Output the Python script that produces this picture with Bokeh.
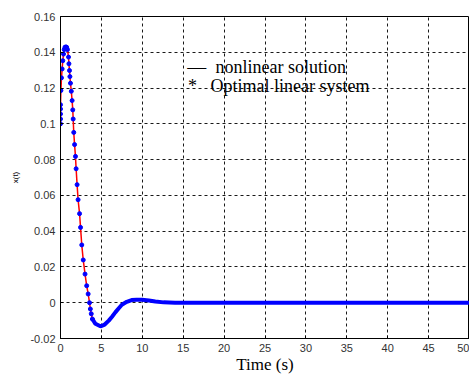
from bokeh.plotting import figure
from bokeh.models import Range1d, Label, FixedTicker
from bokeh.embed import file_html
from bokeh.resources import INLINE

# Sparse solver points (optimal linear system markers) and nonlinear solution
t_pts = [0.00, 0.00, 0.00, 0.00, 0.00, 0.05, 0.12, 0.20, 0.28, 0.37, 0.45, 0.55, 0.65,
         0.75, 0.85, 0.98, 1.03, 1.10, 1.15, 1.22, 1.32, 1.42, 1.50, 1.55, 1.62, 1.72,
         1.83, 1.91, 2.03, 2.15, 2.33, 2.45, 2.60, 2.78, 3.00, 3.20, 3.38, 3.55, 3.65,
         3.76, 3.90]
x_pts = [0.1000, 0.1027, 0.1055, 0.1083, 0.1107, 0.1186, 0.1257, 0.1307, 0.1353, 0.1390,
         0.1415, 0.1428, 0.1430, 0.1428, 0.1415, 0.1373, 0.1336, 0.1298, 0.1264, 0.1227,
         0.1182, 0.1130, 0.1078, 0.1027, 0.0952, 0.0884, 0.0818, 0.0749, 0.0660, 0.0576,
         0.0498, 0.0421, 0.0323, 0.0239, 0.0160, 0.0095, 0.0049, 0.0000, -0.0035, -0.0062,
         -0.0091]
# Dense tail (markers so close they form a thick band)
t_tail = [3.90, 4.27, 4.88, 5.40, 5.90, 6.30, 6.70, 7.10, 7.50, 8.10, 8.70, 9.30, 9.96,
          10.8, 11.6, 12.6, 14.0, 16.0, 20.0, 30.0, 40.0, 50.0]
x_tail = [-0.0091, -0.0118, -0.0132, -0.0122, -0.0100, -0.0078, -0.0054, -0.0032, -0.0011,
          0.0005, 0.0015, 0.0017, 0.0017, 0.0012, 0.0007, 0.0002, 0.0000, 0.0000, 0.0000,
          0.0000, 0.0000, 0.0000]

x_ticks = [0, 5, 10, 15, 20, 25, 30, 35, 40, 45, 50]
y_ticks = [-0.02, 0, 0.02, 0.04, 0.06, 0.08, 0.1, 0.12, 0.14, 0.16]

p = figure(width=469, height=376, output_backend="svg", toolbar_location=None,
           x_range=Range1d(0, 50), y_range=Range1d(-0.02, 0.16),
           min_border_left=60, min_border_right=0, min_border_top=16, min_border_bottom=38)
p.background_fill_color = "white"
p.border_fill_color = "white"
p.outline_line_color = "black"
p.outline_line_width = 1

p.xaxis.ticker = FixedTicker(ticks=x_ticks)
p.yaxis.ticker = FixedTicker(ticks=y_ticks)
p.yaxis.major_label_overrides = {-0.02: "-0.02", 0: "0", 0.02: "0.02", 0.04: "0.04",
                                 0.06: "0.06", 0.08: "0.08", 0.1: "0.1", 0.12: "0.12",
                                 0.14: "0.14", 0.16: "0.16"}
for ax in (p.xaxis[0], p.yaxis[0]):
    ax.axis_line_color = "black"
    ax.major_tick_in = 3
    ax.major_tick_out = 0
    ax.major_tick_line_color = "black"
    ax.minor_tick_line_color = None
    ax.major_label_text_font = "Liberation Sans"
    ax.major_label_text_font_size = "11px"
    ax.major_label_text_color = "#333333"
    ax.major_label_standoff = 5

p.xaxis.axis_label = "Time (s)"
p.xaxis.axis_label_text_font = "Liberation Serif"
p.xaxis.axis_label_text_font_size = "17px"
p.xaxis.axis_label_text_font_style = "normal"
p.xaxis.axis_label_text_color = "black"
p.xaxis.axis_label_standoff = 0

p.yaxis.axis_label = "x(t)"
p.yaxis.axis_label_text_font = "Liberation Sans"
p.yaxis.axis_label_text_font_size = "8px"
p.yaxis.axis_label_text_font_style = "normal"
p.yaxis.axis_label_text_color = "black"
p.yaxis.axis_label_standoff = 7

for g in (p.xgrid[0], p.ygrid[0]):
    g.grid_line_color = "black"
    g.grid_line_dash = "3 3"
    g.grid_line_width = 1
    g.grid_line_alpha = 0.9

# nonlinear solution (red line)
p.line(t_pts + t_tail[1:], x_pts + x_tail[1:], line_color="red", line_width=1.5)
# optimal linear system (blue markers / dense band)
p.line(t_tail, x_tail, line_color="#0000ff", line_width=4)
p.scatter(t_pts, x_pts, size=4, color="#0000ff")

common = dict(text_font="Liberation Serif", text_color="black", text_baseline="alphabetic")
p.add_layout(Label(x=15.5, y=0.1320, text="—", text_font_size="19px", **common))
p.add_layout(Label(x=18.95, y=0.1320, text="nonlinear solution", text_font_size="18px", **common))
p.add_layout(Label(x=15.6, y=0.1209, text="*", text_font_size="18px", **common))
p.add_layout(Label(x=18.34, y=0.1209, text="Optimal linear system", text_font_size="18px", **common))

open("out.html", "w").write(file_html(p, INLINE))
